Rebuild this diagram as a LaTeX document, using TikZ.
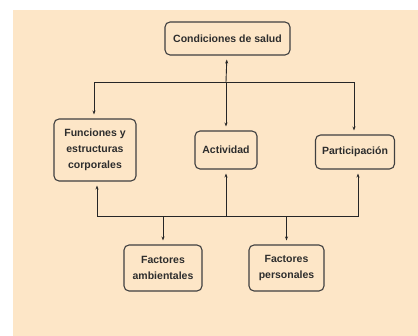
\documentclass[tikz,border=0pt]{standalone}
\usepackage{xcolor}
\usepackage{fontspec}
\setmainfont{Liberation Sans}
\usepackage{tikz}
\usetikzlibrary{arrows.meta, positioning, calc}
\definecolor{peachbg}{RGB}{253,230,199}
\definecolor{boxline}{RGB}{64,64,64}
\definecolor{boxtext}{RGB}{45,45,45}

\begin{document}
\begin{tikzpicture}[
    x=1pt, y=-1pt,
    box/.style={rectangle, rounded corners=5pt, draw=boxline, line width=1.1pt, fill=peachbg, align=center, text=boxtext, inner sep=2pt, font=\fontsize{10.5}{16}\selectfont\bfseries},
    arrow/.style={-{Stealth[length=4pt, width=3pt]}, line width=0.9pt, color=black!85, shorten >=4pt},
    bus/.style={line width=0.9pt, color=black!85}
]
\useasboundingbox (0,0) rectangle (418,336);
\fill[peachbg] (13,10) rectangle (418,336);

\node[box, minimum width=125pt, minimum height=33pt] (salud) at (227.5,38.5) {Condiciones de salud};
\node[box, minimum width=82pt, minimum height=62pt] (funciones) at (95,150) {Funciones y\\estructuras\\corporales};
\node[box, minimum width=62pt, minimum height=38pt] (actividad) at (226,150) {Actividad};
\node[box, minimum width=79pt, minimum height=34pt] (participacion) at (355,152) {Participaci\'on};
\node[box, minimum width=78pt, minimum height=46pt] (ambientales) at (163,268) {Factores\\ambientales};
\node[box, minimum width=75pt, minimum height=46pt] (personales) at (286.5,268) {Factores\\personales};

\coordinate (topbus) at (226,82);
\coordinate (botbus) at (226,216);

% upper bus
\draw[arrow] (topbus) -- (salud);
\draw[arrow] (topbus) -- (actividad);
\draw[arrow] (topbus) -| ([xshift=-1pt]funciones.north);
\draw[arrow] (topbus) -| ([xshift=-1pt]participacion.north);

% lower bus
\draw[arrow] (botbus) -- (actividad);
\draw[arrow] (botbus) -| ([xshift=2pt]funciones.south);
\draw[arrow] (botbus) -| ([xshift=3pt]participacion.south);
\draw[arrow] (botbus) -| (ambientales);
\draw[arrow] (botbus) -| (personales);

\end{tikzpicture}
\end{document}
